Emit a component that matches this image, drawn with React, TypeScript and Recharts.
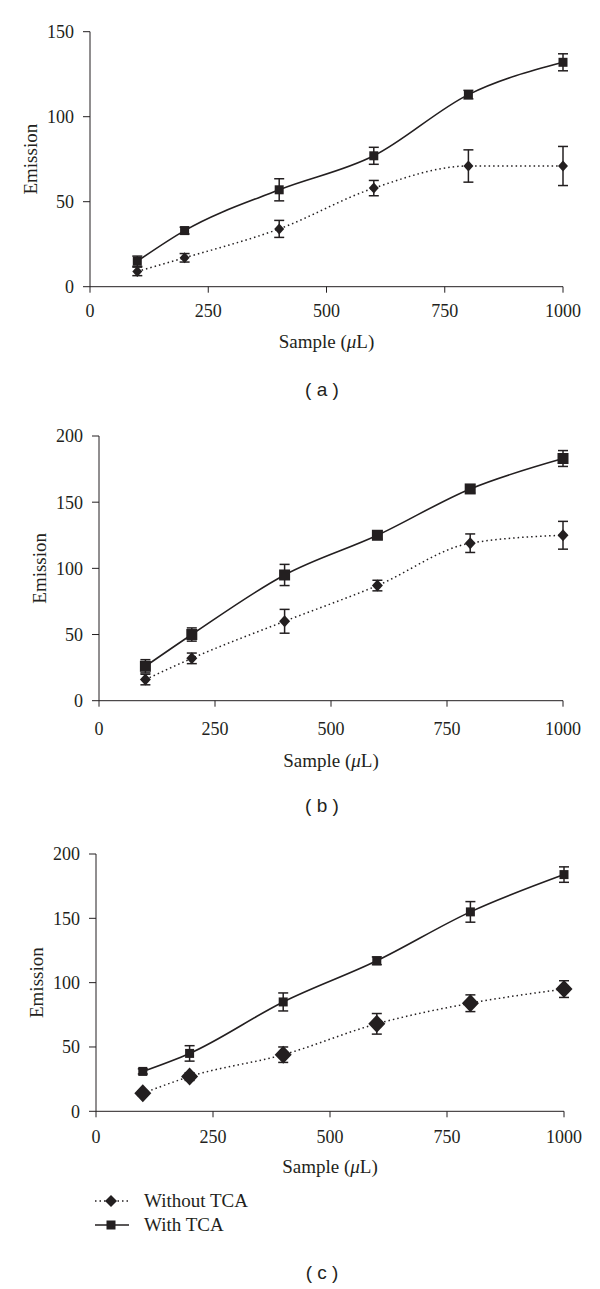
import React from "react";
import { LineChart, Line, XAxis, YAxis, ErrorBar, Legend } from "recharts";

const SAMPLE = [100, 200, 400, 600, 800, 1000];
const X_TICKS = [0, 250, 500, 750, 1000];
const SERIES_NAMES = ["Without TCA", "With TCA"];

// panel (a)
const A_WITH = [15, 33, 57, 77, 113, 132];
const A_WITH_ERR = [3, 2, 6.5, 5, 2.5, 5];
const A_WITHOUT = [9, 17, 34, 58, 71, 71];
const A_WITHOUT_ERR = [2.5, 2.5, 5, 4.5, 9.5, 11.5];
const A_Y_TICKS = [0, 50, 100, 150];

// panel (b)
const B_WITH = [26, 50, 95, 125, 160, 183];
const B_WITH_ERR = [5, 5, 8, 3, 3, 6];
const B_WITHOUT = [16, 32, 60, 87, 119, 125];
const B_WITHOUT_ERR = [4, 4, 9, 4, 7, 10.5];
const B_Y_TICKS = [0, 50, 100, 150, 200];

// panel (c)
const C_WITH = [31, 45, 85, 117, 155, 184];
const C_WITH_ERR = [2, 6, 7, 3, 8, 6];
const C_WITHOUT = [14, 27, 44, 68, 84, 95];
const C_WITHOUT_ERR = [2, 3, 6, 8, 6.5, 6.5];
const C_Y_TICKS = [0, 50, 100, 150, 200];

const INK = "#231f20";
const SERIF = "'Liberation Serif', 'DejaVu Serif', serif";
const SANS = "'Liberation Sans', Arial, sans-serif";
const DOTTED = "1.5 3";

const buildRows = (w: number[], we: number[], wo: number[], woe: number[]) =>
  SAMPLE.map((x, i) => ({ x, with: w[i], withErr: we[i], without: wo[i], withoutErr: woe[i] }));

const square = (s: number) => (p: any) => (
  <rect key={`sq-${p.index}`} x={p.cx - s / 2} y={p.cy - s / 2} width={s} height={s} fill={INK} />
);

const diamond = (w: number, h: number) => (p: any) => (
  <path
    key={`dm-${p.index}`}
    d={`M${p.cx},${p.cy - h / 2}L${p.cx + w / 2},${p.cy}L${p.cx},${p.cy + h / 2}L${p.cx - w / 2},${p.cy}Z`}
    fill={INK}
  />
);

const emissionLabel = (props: any) => {
  const vb = props.viewBox;
  const cx = vb.x + 1;
  const cy = vb.y + vb.height / 2;
  return (
    <text
      x={cx}
      y={cy}
      transform={`rotate(-90, ${cx}, ${cy})`}
      textAnchor="middle"
      dominantBaseline="central"
      fontFamily={SERIF}
      fontSize={19}
      fill={INK}
    >
      Emission
    </text>
  );
};

// "Sample (µL)" with the italic mu, sitting on the bottom of the axis box
const sampleLabel = (props: any) => {
  const vb = props.viewBox;
  return (
    <text
      x={vb.x + vb.width / 2}
      y={vb.y + vb.height}
      textAnchor="middle"
      fontFamily={SERIF}
      fontSize={19}
      fill={INK}
    >
      Sample (<tspan fontStyle="italic">{"\u03bc"}</tspan>L)
    </text>
  );
};

const renderLegend = () => (
  <div style={{ fontFamily: SERIF, fontSize: 19, color: INK }}>
    {SERIES_NAMES.map((name, i) => (
      <div key={name} style={{ display: "flex", alignItems: "center", height: 24 }}>
        <svg width={36} height={20}>
          <line
            x1={1}
            x2={35}
            y1={10}
            y2={10}
            stroke={INK}
            strokeWidth={1.5}
            strokeDasharray={i === 0 ? DOTTED : undefined}
          />
          {i === 0 ? (
            <path d="M17,4L23,10L17,16L11,10Z" fill={INK} />
          ) : (
            <rect x={12.5} y={5.5} width={9} height={9} fill={INK} />
          )}
        </svg>
        <span style={{ marginLeft: 14 }}>{name}</span>
      </div>
    ))}
  </div>
);

type PanelProps = {
  rows: any[];
  yTicks: number[];
  top: number;
  height: number;
  plotTop: number;
  plotBottom: number;
  plotLeft: number;
  plotRight: number;
  tickGap: number;
  labelGap: number;
  sq: number;
  dw: number;
  dh: number;
  caption: string;
  captionY: number;
  legend?: boolean;
};

function Panel(p: PanelProps) {
  const yAxisWidth = 60;
  const margin = {
    top: p.plotTop - p.top,
    left: p.plotLeft - yAxisWidth,
    right: 600 - p.plotRight,
    bottom: p.top + p.height - p.plotBottom - p.labelGap,
  };
  return (
    <>
      <div style={{ position: "absolute", top: p.top, left: 0, width: 600, height: p.height }}>
        <LineChart width={600} height={p.height} data={p.rows} margin={margin}>
          <XAxis
            dataKey="x"
            type="number"
            domain={[0, 1000]}
            ticks={X_TICKS}
            interval={0}
            height={p.labelGap}
            tickSize={6}
            tickMargin={p.tickGap}
            stroke={INK}
            tick={{ fontSize: 18, fill: INK, fontFamily: SERIF }}
            label={sampleLabel}
          />
          <YAxis
            type="number"
            domain={[0, p.yTicks[p.yTicks.length - 1]]}
            ticks={p.yTicks}
            interval={0}
            width={yAxisWidth}
            tickSize={7}
            tickMargin={9}
            stroke={INK}
            tick={{ fontSize: 18, fill: INK, fontFamily: SERIF }}
            label={emissionLabel}
          />
          <Line
            dataKey="without"
            name={SERIES_NAMES[0]}
            type="monotone"
            stroke={INK}
            strokeWidth={1.5}
            strokeDasharray={DOTTED}
            dot={diamond(p.dw, p.dh)}
            activeDot={false}
            isAnimationActive={false}
          >
            <ErrorBar dataKey="withoutErr" direction="y" width={5} stroke={INK} strokeWidth={1.5} />
          </Line>
          <Line
            dataKey="with"
            name={SERIES_NAMES[1]}
            type="monotone"
            stroke={INK}
            strokeWidth={1.6}
            dot={square(p.sq)}
            activeDot={false}
            isAnimationActive={false}
          >
            <ErrorBar dataKey="withErr" direction="y" width={5} stroke={INK} strokeWidth={1.5} />
          </Line>
          {p.legend && (
            <Legend
              layout="vertical"
              align="center"
              verticalAlign="middle"
              content={renderLegend}
              wrapperStyle={{ left: 94, top: 1189 - p.top, width: 200 }}
            />
          )}
        </LineChart>
      </div>
      <div
        style={{
          position: "absolute",
          left: 272,
          width: 100,
          top: p.captionY - 12,
          height: 24,
          lineHeight: "24px",
          textAlign: "center",
          fontFamily: SANS,
          fontSize: 19,
          color: INK,
          whiteSpace: "pre",
        }}
      >
        {p.caption}
      </div>
    </>
  );
}

export default function App() {
  return (
    <div style={{ position: "absolute", top: 0, left: 0, width: 600, height: 1289, background: "#fff" }}>
      <Panel
        rows={buildRows(A_WITH, A_WITH_ERR, A_WITHOUT, A_WITHOUT_ERR)}
        yTicks={A_Y_TICKS}
        top={0}
        height={400}
        plotTop={31.7}
        plotBottom={286.7}
        plotLeft={90}
        plotRight={563}
        tickGap={12}
        labelGap={61.6}
        sq={9}
        dw={10}
        dh={11}
        caption="( a )"
        captionY={390}
      />
      <Panel
        rows={buildRows(B_WITH, B_WITH_ERR, B_WITHOUT, B_WITHOUT_ERR)}
        yTicks={B_Y_TICKS}
        top={410}
        height={380}
        plotTop={436}
        plotBottom={700.7}
        plotLeft={99}
        plotRight={563}
        tickGap={15.5}
        labelGap={66}
        sq={11}
        dw={11}
        dh={12}
        caption="( b )"
        captionY={806}
      />
      <Panel
        rows={buildRows(C_WITH, C_WITH_ERR, C_WITHOUT, C_WITHOUT_ERR)}
        yTicks={C_Y_TICKS}
        top={830}
        height={459}
        plotTop={854}
        plotBottom={1111.3}
        plotLeft={96}
        plotRight={564}
        tickGap={12.6}
        labelGap={62}
        sq={9}
        dw={17}
        dh={18}
        caption="( c )"
        captionY={1273}
        legend
      />
    </div>
  );
}
